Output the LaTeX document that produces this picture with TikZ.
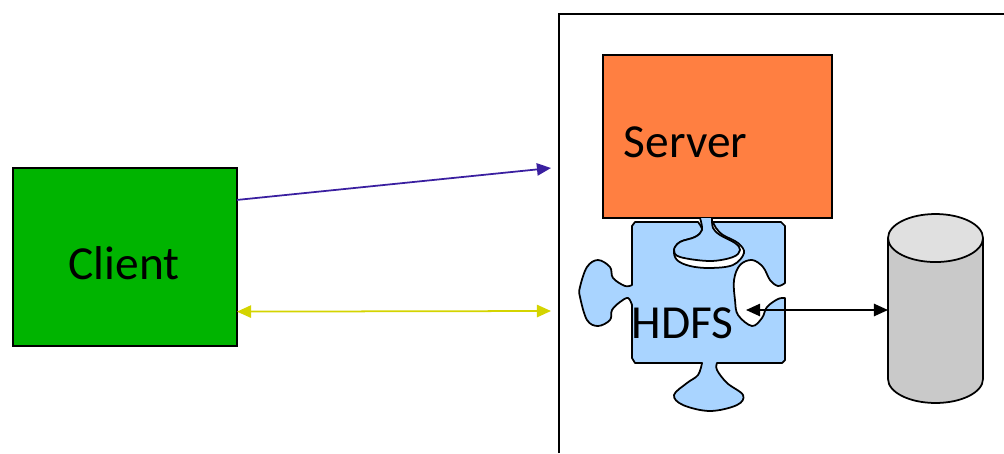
\documentclass[tikz,border=0pt]{standalone}
\usepackage{fontspec}
\setmainfont{Carlito}
\usetikzlibrary{shapes.geometric,arrows.meta}
\definecolor{clientgreen}{HTML}{00B400}
\definecolor{serverorange}{HTML}{FF7F41}
\definecolor{hdfsblue}{HTML}{A9D4FF}
\definecolor{linkblue}{HTML}{3A1FA0}
\definecolor{linkyellow}{HTML}{D4D400}

\begin{document}
\begin{tikzpicture}
  [x=0.02cm,y=-0.02cm,line width=1pt,
   box/.style={draw,rectangle,outer sep=0pt},
   label text/.style={inner sep=0pt,font=\fontsize{27}{30}\selectfont},
   tip/.style={-{Triangle[length=8pt,width=7pt]}},
   tips/.style={{Triangle[length=8pt,width=7pt]}-{Triangle[length=8pt,width=7pt]}}]
  \useasboundingbox (0,0) rectangle (1004,453);

  % frame of the server machine
  \coordinate (frameb) at (559,453);
  \coordinate (framer) at (1004,14);
  \draw (frameb) |- (framer);

  \node[box,fill=clientgreen,minimum width=4.48cm,minimum height=3.56cm] (client) at (125,257) {};
  \node[label text] (clienttext) at (124,263) {Client};
  \node[box,fill=serverorange,minimum width=4.58cm,minimum height=3.26cm] (server) at (717.5,136.5) {};
  \node[label text,anchor=west] (servertext) at (623,142) {Server};

  % puzzle piece
  \filldraw[fill=hdfsblue,line join=round]
    (635,222) -- (698,222)
    -- plot[smooth,tension=0.6] coordinates {(698,222) (702,230) (695,237) (680,242) (674,250) (677,260) (690,266) (710,268) (733,265) (744,253) (738,243) (723,235) (716,228) (713,222)}
    -- (781,222) -- (785,226) -- (785,283)
    -- plot[smooth,tension=0.6] coordinates {(785,283) (778,286) (770,280) (763,267) (752,260) (740,265) (734,280) (735,300) (738,315) (752,326) (762,318) (767,307) (778,299) (785,298)}
    -- (785,360) -- (782,363) -- (717,363)
    -- plot[smooth,tension=0.6] coordinates {(717,363) (717,370) (727,383) (743,395) (737,405) (710,411) (683,405) (674,395) (687,383) (698,375) (702,363)}
    -- (635,363) -- (632,358) -- (632,305)
    -- plot[smooth,tension=0.6] coordinates {(632,305) (628,298) (620,302) (612,310) (610,320) (598,326) (587,320) (580,297) (580,287) (587,267) (598,260) (610,267) (613,278) (625,286) (632,285)}
    -- (632,226) -- cycle;
  % tab of the server piece
  \filldraw[fill=hdfsblue,line join=round]
    plot[smooth,tension=0.6] coordinates {(700,218) (702,230) (695,237) (680,242) (674,250) (680,257) (710,261) (733,257) (740,250) (735,243) (720,235) (713,228) (712,218)};

  \node[label text] (hdfs) at (682.5,323) {HDFS};
  \node[draw,cylinder,shape border rotate=90,shape aspect=4.1,outer sep=0pt,anchor=shape center,
        cylinder uses custom fill,cylinder body fill={black!21},cylinder end fill={black!12},
        minimum width=1.9cm,minimum height=3.78cm] (storage) at (935.5,308.5) {};

  \coordinate (frametop) at (551,168);
  \coordinate (framemid) at (551,311);
  \coordinate (hdfsend) at (746,310);

  \draw[tip,linkblue] (client.27) -- (frametop);
  \draw[tips,linkyellow] (client.-26) -- (framemid);
  \draw[tips] (hdfsend) -- (hdfsend -| storage.west);
\end{tikzpicture}
\end{document}
